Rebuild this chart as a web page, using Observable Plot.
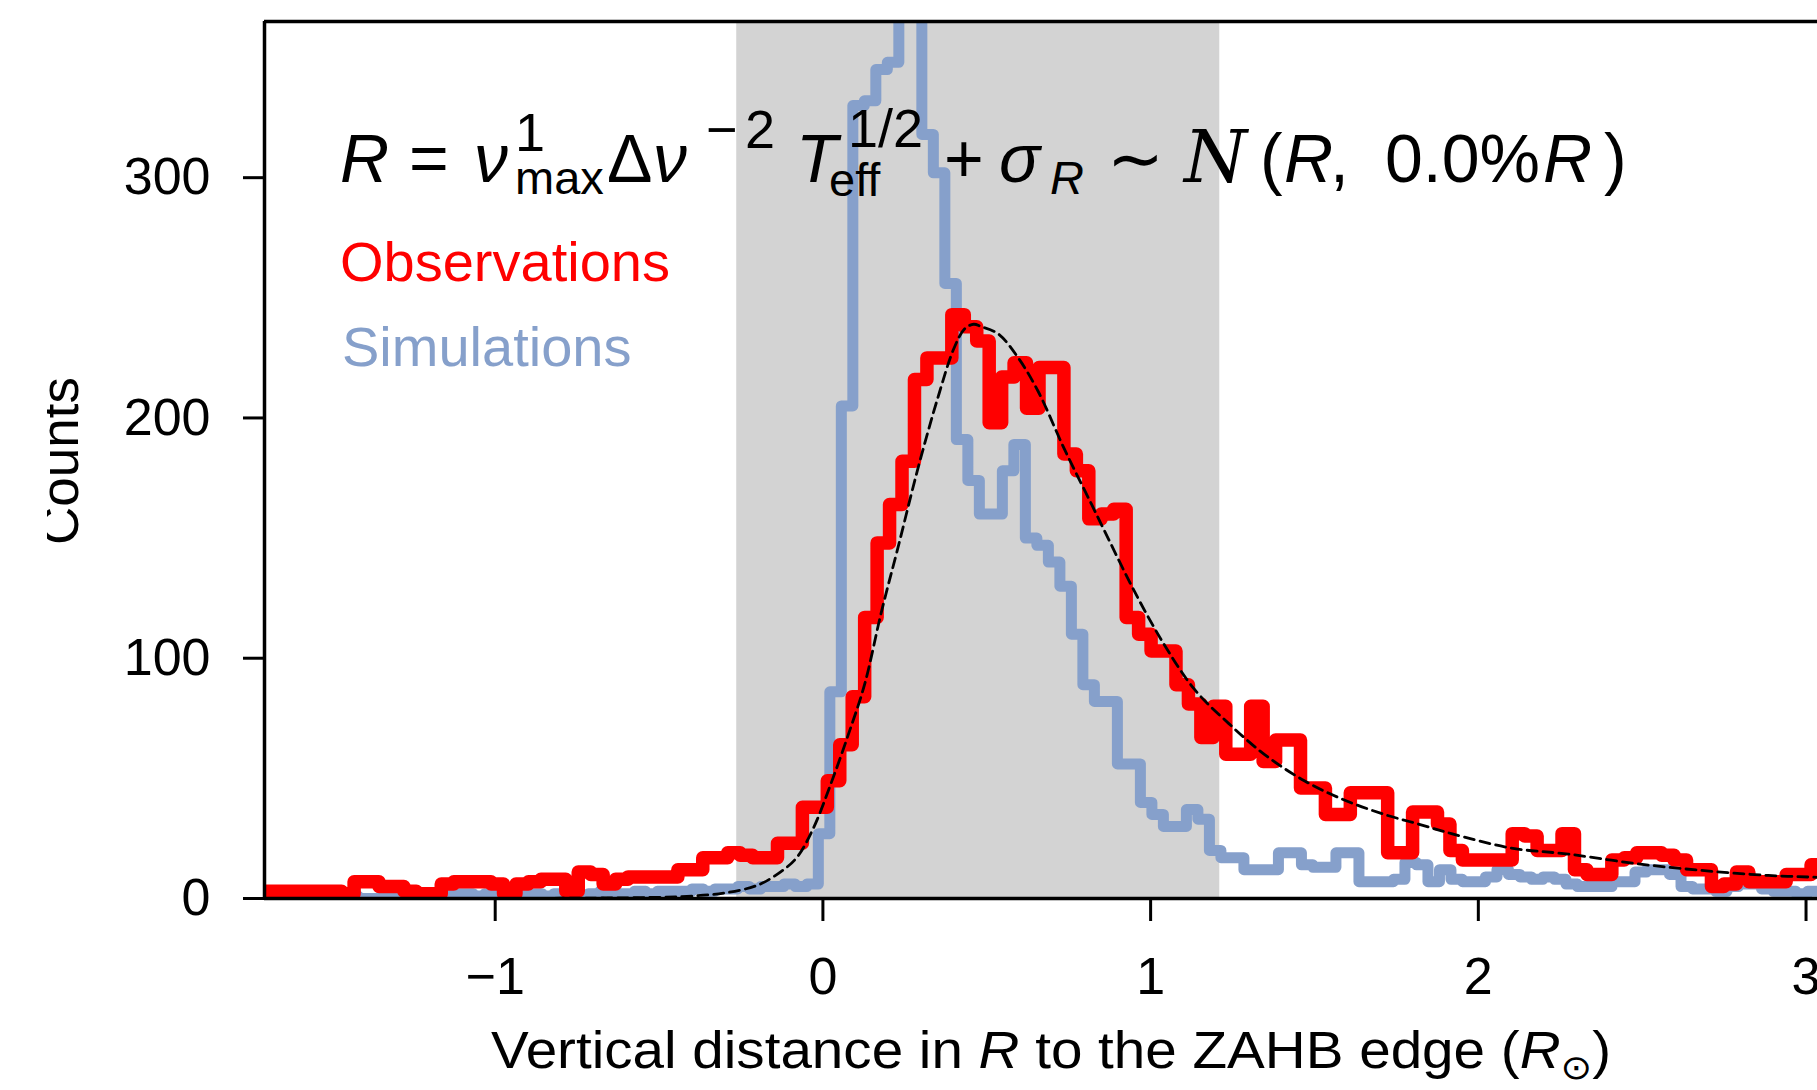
<!DOCTYPE html>
<html>
<head>
<meta charset="utf-8">
<script src="https://cdn.jsdelivr.net/npm/d3@7"></script>
<script src="https://cdn.jsdelivr.net/npm/@observablehq/plot@0.6"></script>
<style>
  html, body { margin: 0; padding: 0; background: #fff; overflow: hidden; }
  #chart svg { display: block; }
</style>
</head>
<body>
<div id="chart"></div>
<script>
// Axis extents and ticks
const xDomain = [-1.704, 3.035];
const yDomain = [0, 365];
const xTicks = [-1, 0, 1, 2, 3];
const yTicks = [0, 100, 200, 300];

// Shaded interval (ZAHB-edge units)
const shadedRange = [-0.263, 1.211];

// Observations histogram: first bin edge, bin width, counts per bin
const obsStart = -1.7346;
const obsBinWidth = 0.038;
const obsCounts = [
  3, 3, 3, 3, 3, 3, 3, 2,
  7, 7, 5, 5, 3, 2, 2, 6,
  7, 7, 7, 6, 2, 6, 7, 8,
  8, 3, 11, 10, 6, 8, 9, 9,
  9, 9, 12, 12, 17, 17, 19, 18,
  17, 17, 23, 23, 38, 38,
  49, 64, 84, 117, 148, 164, 182, 216,
  225, 225, 243, 238, 232, 198, 217, 223,
  204, 221, 221, 185, 178, 158, 160, 162,
  117, 110, 103, 103, 89, 81, 67, 80,
  60, 60, 80, 57, 66, 66, 46, 46,
  35, 35, 44, 44, 44, 19, 19, 36,
  36, 31, 20, 16, 16, 16, 16, 27,
  26, 20, 20, 27, 12, 10, 10, 16,
  17, 19, 19, 18, 16, 12, 12, 5,
  6, 11, 7, 7, 7, 10, 10, 14
];

// Simulations histogram: first bin edge, bin width, counts per bin
const simStart = -1.7339;
const simBinWidth = 0.0351;
const simCounts = [
  0, 0, 1, 0, 0, 1, 0, 0, 1, 0, 0, 1, 1, 0, 1, 0,
  1, 2, 2, 1, 2, 1, 1, 2, 2, 1, 2, 2, 1, 2, 3, 2, 2, 3, 2, 3,
  3, 3, 4, 3, 4, 4, 5, 4, 5, 5, 6, 5, 6,
  27, 86, 205, 330, 332, 345, 348, 400, 395, 318, 302, 256, 191,
  174, 160, 160, 178, 189, 150, 147, 140, 130, 110, 89, 82, 82,
  56, 56, 40, 35, 30, 30, 37, 33, 20, 17, 17, 12, 12, 12, 19, 19, 14, 13, 13, 19, 19, 7, 7, 7, 8, 15, 14, 7,
  12, 8, 7, 7, 9, 12, 10, 9, 8, 9, 8, 6, 5, 5, 5, 7, 7, 11, 12, 12, 10, 5, 4, 4, 3, 5, 6, 6, 4, 3, 3, 2, 3
];

// Fitted distribution (dashed curve)
const fitX = [-1.70, -0.80, -0.50, -0.40, -0.30, -0.20, -0.13, -0.08, -0.03, 0.025, 0.077, 0.127, 0.178,
  0.229, 0.29, 0.352, 0.40, 0.432, 0.46, 0.483, 0.535, 0.596, 0.657, 0.737, 0.82, 0.87, 0.95, 1.04,
  1.134, 1.237, 1.347, 1.469, 1.591, 1.713, 1.817, 1.918, 2.10, 2.274, 2.477, 2.68, 2.885, 3.04];
const fitY = [0, 0.1, 0.5, 1, 2.3, 5.5, 11, 17, 29, 48, 68, 89, 119,
  146, 179, 209, 229, 237, 239, 238, 235, 225, 211, 187, 164, 150, 128, 106,
  87, 73, 60, 49, 41, 35, 31, 27, 21, 18.5, 14.6, 11.7, 9.6, 8.8];

const FONT = "'Liberation Sans', Arial, Helvetica, sans-serif";
const OBS_COLOR = "#ff0000";
const SIM_COLOR = "#86a0cb";
const SHADE_COLOR = "#d3d3d3";

// Turn bin edges + counts into a step outline
function stepPoints(start, width, counts) {
  const pts = counts.map((c, i) => ({x: start + i * width, y: c}));
  pts.push({x: start + counts.length * width, y: counts[counts.length - 1]});
  return pts;
}

const obsSteps = stepPoints(obsStart, obsBinWidth, obsCounts);
const simSteps = stepPoints(simStart, simBinWidth, simCounts);
const fitCurve = fitX.map((x, i) => ({x, y: fitY[i]}));

// Integer tick labels with a true minus sign
const tickLabel = d => (d < 0 ? "\u2212" : "") + Math.abs(d);

// Formula, legend words and axis titles
function annotationLayer() {
  const g = d3.create("svg:g")
    .attr("font-family", FONT)
    .attr("fill", "#000")
    .attr("text-anchor", "start")
    .style("white-space", "pre");

  const parts = [
    {t: "R", x: 340, y: 182, s: 68, i: true},
    {t: "=", x: 409, y: 182, s: 68},
    {t: "ν", x: 474, y: 182, s: 68, i: true},
    {t: "1", x: 515, y: 151, s: 54},
    {t: "max", x: 515, y: 194, s: 47},
    {t: "Δ", x: 607, y: 182, s: 68},
    {t: "ν", x: 653, y: 182, s: 68, i: true},
    {t: "−", x: 706, y: 148, s: 54},
    {t: "2", x: 745, y: 148, s: 54},
    {t: "T", x: 796, y: 182, s: 68, i: true},
    {t: "1/2", x: 848, y: 147, s: 54},
    {t: "eff", x: 829, y: 196, s: 47},
    {t: "+", x: 944, y: 182, s: 68},
    {t: "σ", x: 999, y: 182, s: 68, i: true},
    {t: "R", x: 1050, y: 194, s: 47, i: true},
    {t: "∼", x: 1107, y: 182, s: 68},
    {t: "N", x: 1184, y: 182, s: 72, i: true, f: "'DejaVu Serif', serif"},
    {t: "(", x: 1260, y: 182, s: 68},
    {t: "R", x: 1284, y: 182, s: 68, i: true},
    {t: ",", x: 1330, y: 182, s: 68},
    {t: "0.0%", x: 1385, y: 182, s: 68},
    {t: "R", x: 1543, y: 182, s: 68, i: true},
    {t: ")", x: 1604, y: 182, s: 68}
  ];
  const formula = g.append("text");
  for (const p of parts) {
    const ts = formula.append("tspan")
      .attr("x", p.x).attr("y", p.y)
      .attr("font-size", p.s)
      .text(p.t);
    if (p.i) ts.attr("font-style", "italic");
    if (p.f) ts.attr("font-family", p.f);
  }

  g.append("text").attr("x", 340).attr("y", 281).attr("font-size", 56)
    .attr("fill", OBS_COLOR).text("Observations");
  g.append("text").attr("x", 342).attr("y", 366).attr("font-size", 56)
    .attr("fill", SIM_COLOR).text("Simulations");

  // x-axis title, slightly widened
  const xl = g.append("text")
    .attr("transform", "translate(1051,1068) scale(1.11,1)")
    .attr("text-anchor", "middle")
    .attr("font-size", 51);
  xl.append("tspan").text("Vertical distance in ");
  xl.append("tspan").attr("font-style", "italic").text("R");
  xl.append("tspan").text(" to the ZAHB edge (");
  xl.append("tspan").attr("font-style", "italic").text("R");
  xl.append("tspan").attr("font-size", 34).attr("dy", 11).attr("font-family", "'DejaVu Sans', sans-serif").text("⊙");
  xl.append("tspan").attr("dy", -11).text(")");

  // y-axis title, trimmed at the figure's left border
  g.append("clipPath").attr("id", "ytitle-clip")
    .append("rect").attr("x", 47).attr("y", 0).attr("width", 200).attr("height", 1090);
  g.append("g")
    .attr("clip-path", "url(#ytitle-clip)")
    .append("text")
    .attr("transform", "translate(78,461) rotate(-90)")
    .attr("text-anchor", "middle")
    .attr("font-size", 53)
    .text("Counts");

  return g.node();
}

const chart = Plot.plot({
  width: 1817,
  height: 1090,
  marginLeft: 264,
  marginRight: 0,
  marginTop: 21,
  marginBottom: 192,
  style: {fontFamily: FONT, fontSize: "52px", color: "#000", background: "#fff", overflow: "visible"},
  x: {domain: xDomain},
  y: {domain: yDomain},
  marks: [
    Plot.rect([shadedRange], {x1: d => d[0], x2: d => d[1], fill: SHADE_COLOR}),
    Plot.line(simSteps, {x: "x", y: "y", curve: "step-after", stroke: SIM_COLOR, strokeWidth: 11, strokeLinejoin: "round", strokeLinecap: "butt", clip: true}),
    Plot.line(obsSteps, {x: "x", y: "y", curve: "step-after", stroke: OBS_COLOR, strokeWidth: 13.5, strokeLinejoin: "round", strokeLinecap: "butt", clip: true}),
    Plot.line(fitCurve, {x: "x", y: "y", curve: "catmull-rom", stroke: "#000", strokeWidth: 2.8, strokeDasharray: "10,6", clip: true}),
    Plot.ruleX([xDomain[0]], {stroke: "#000", strokeWidth: 3.5}),
    Plot.ruleY([yDomain[1]], {stroke: "#000", strokeWidth: 3.5}),
    Plot.ruleY([yDomain[0]], {stroke: "#000", strokeWidth: 3.5}),
    Plot.axisX({ticks: xTicks, tickFormat: tickLabel, tickSize: 23, tickPadding: 36, strokeWidth: 3, fontSize: 52, label: null}),
    Plot.axisY({ticks: yTicks, tickFormat: tickLabel, tickSize: 21, tickPadding: 33, strokeWidth: 3, fontSize: 52, label: null}),
    annotationLayer
  ]
});

document.getElementById("chart").appendChild(chart);
</script>
</body>
</html>
